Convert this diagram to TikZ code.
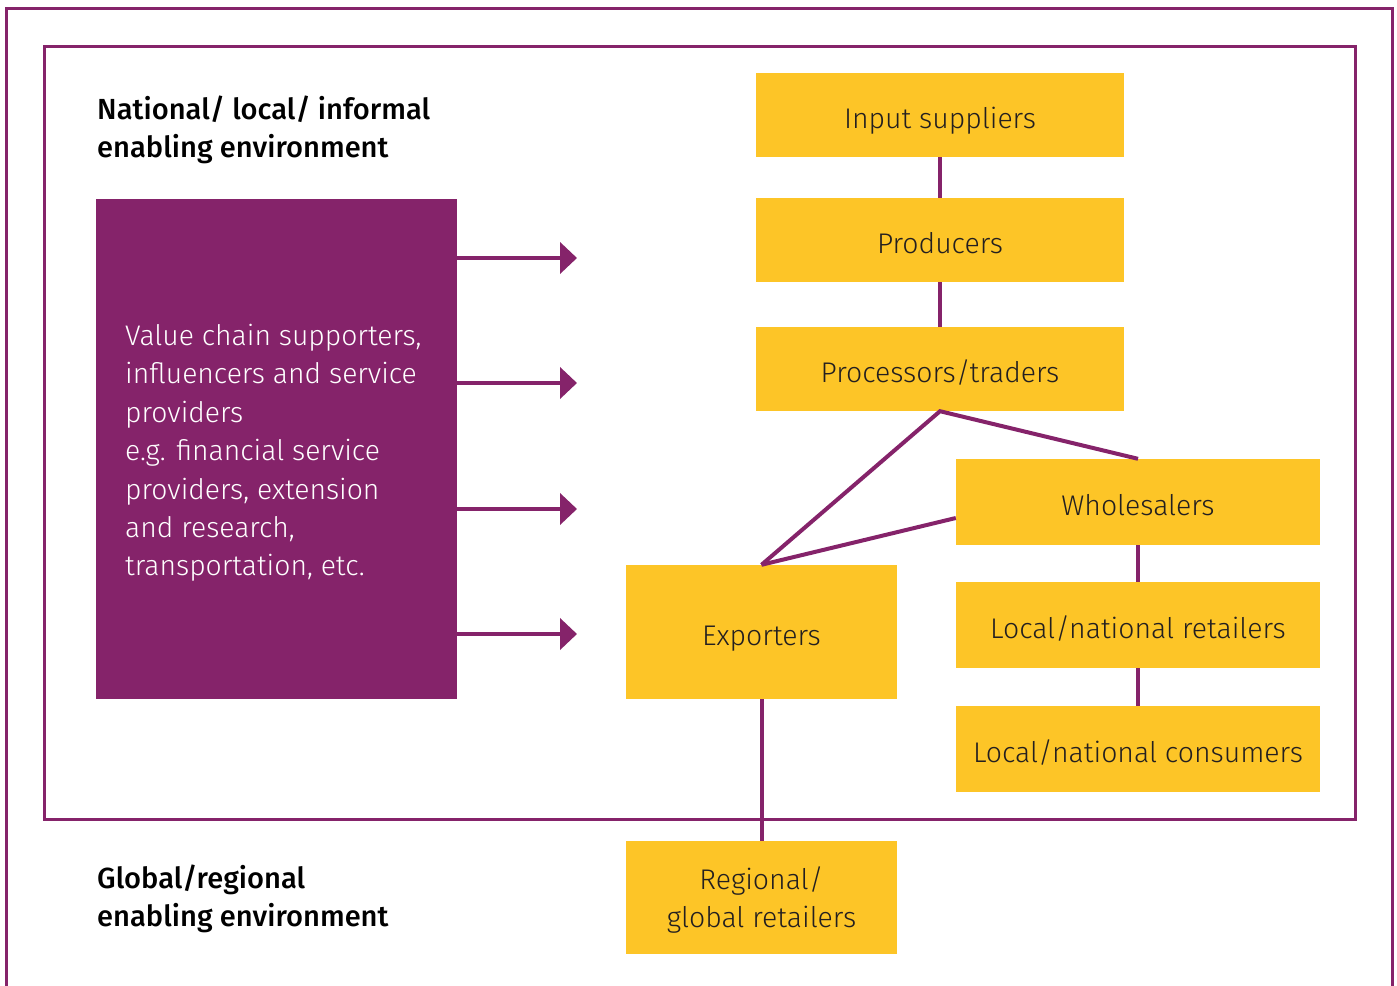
\documentclass[tikz,border=0pt]{standalone}
\usepackage{fontspec}
\setmainfont{Fira Sans}[UprightFont=* Light, BoldFont=* Medium]
\usetikzlibrary{arrows.meta}
\definecolor{purp}{HTML}{85236A}
\definecolor{yel}{HTML}{FDC527}
\definecolor{txt}{HTML}{231F20}
\tikzset{
  ybox/.style={fill=yel, inner sep=0pt, text=txt, font=\fontsize{28.4}{38}\selectfont, align=center},
  onel/.style={text height=26pt, text depth=0pt},
  link/.style={draw=purp, line width=4pt},
  arr/.style={draw=purp, line width=4.5pt, -{Triangle[length=17pt,width=31pt]}},
  frame/.style={draw=purp, line width=3pt},
  title/.style={font=\fontsize{29.1}{38}\selectfont\bfseries, align=left, inner sep=0pt, anchor=north west},
}
\begin{document}
\begin{tikzpicture}[x=1pt,y=-1pt]
\useasboundingbox (0,0) rectangle (1397,985);
% frames
\draw[frame] (6.5,992) -- (6.5,8.5) -- (1392.5,8.5) -- (1392.5,992);
\draw[frame] (44,46.5) rectangle (1355.5,819);
% titles
\node[title] (t1) at (97,96) {National/ local/ informal\\enabling environment};
\node[title] (t2) at (97,865) {Global/regional\\enabling environment};
% purple box
\node[fill=purp, minimum width=361pt, minimum height=500pt, inner sep=0pt] (pur) at (276.5,449) {};
\node[anchor=north west, inner sep=0pt, text=white, align=left, font=\fontsize{28.3}{38.4}\selectfont] (ptxt) at (125,324)
  {Value chain supporters,\\influencers and service\\providers\\e.g. financial service\\providers, extension\\and research,\\transportation, etc.};
% yellow boxes
\node[ybox, onel, minimum width=368pt, minimum height=84pt] (inp) at (940,115) {Input suppliers};
\node[ybox, onel, minimum width=368pt, minimum height=84pt] (prod) at (940,240) {Producers};
\node[ybox, onel, minimum width=368pt, minimum height=84pt] (proc) at (940,369) {Processors/traders};
\node[ybox, onel, minimum width=364pt, minimum height=86pt] (whl) at (1138,502) {Wholesalers};
\node[ybox, onel, minimum width=364pt, minimum height=86pt] (ret) at (1138,625) {Local/national retailers};
\node[ybox, onel, minimum width=364pt, minimum height=86pt] (con) at (1138,749) {Local/national consumers};
\node[ybox, onel, minimum width=271pt, minimum height=134pt] (exp) at (761.5,632) {Exporters};
\node[ybox, minimum width=271pt, minimum height=113pt, text depth=0pt] (reg) at (761.5,897.5) {Regional/\\global retailers};
% connectors
\draw[link] (inp.south) -- (prod.north);
\draw[link] (prod.south) -- (proc.north);
\draw[link, line join=miter] (exp.north) -- (proc.south) -- (whl.north);
\coordinate (wl) at ([yshift=-16pt]whl.west);
\draw[link] (wl) -- (exp.north);
\draw[link] (whl.south) -- (ret.north);
\draw[link] (ret.south) -- (con.north);
\draw[link] (exp.south) -- (reg.north);
% arrows
\coordinate (a1) at (577,258);
\coordinate (a2) at (577,383);
\coordinate (a3) at (577,509);
\coordinate (a4) at (577,634);
\draw[arr] (pur.east |- a1) -- (a1);
\draw[arr] (pur.east |- a2) -- (a2);
\draw[arr] (pur.east |- a3) -- (a3);
\draw[arr] (pur.east |- a4) -- (a4);
\end{tikzpicture}
\end{document}
